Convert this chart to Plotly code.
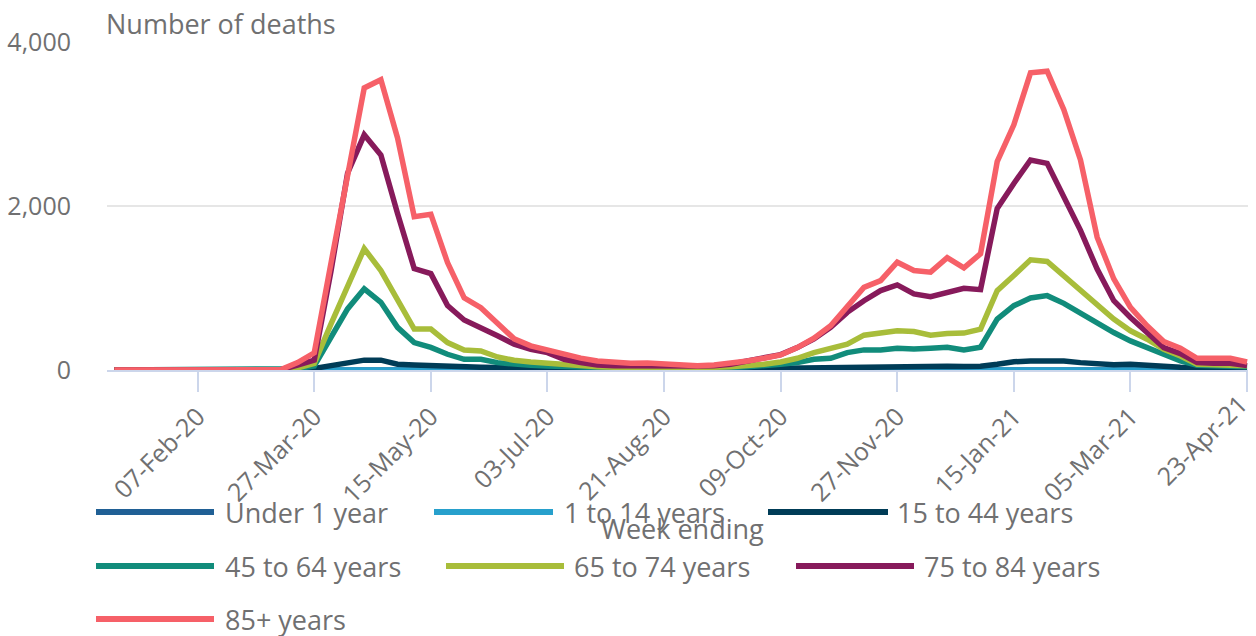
import pandas as pd
import plotly.graph_objects as go

# ---------------- data ----------------
weeks = pd.date_range("2020-01-03", "2021-04-23", freq="7D")

under_1 = [0]*10 + [0, 0, 0, 1, 1, 1, 1, 1, 0, 0,
                    0, 0, 0, 0, 0, 0, 0, 0, 0, 0,
                    0, 0, 0, 0, 0, 0, 0, 0, 0, 0,
                    0, 0, 0, 0, 0, 0, 0, 0, 0, 0,
                    0, 0, 0, 1, 1, 1, 1, 1, 0, 0,
                    0, 0, 0, 0, 0, 0, 0, 0, 0]
age_1_14 = [0]*10 + [0, 0, 1, 3, 4, 6, 6, 4, 3, 2,
                     1, 1, 1, 1, 0, 0, 0, 0, 0, 0,
                     0, 0, 0, 0, 0, 1, 1, 1, 1, 1,
                     1, 1, 1, 2, 2, 3, 3, 3, 3, 2,
                     2, 2, 3, 5, 6, 7, 7, 6, 5, 4,
                     3, 3, 2, 2, 1, 1, 1, 1, 1]
age_15_44 = [0]*10 + [1, 5, 20, 55, 90, 120, 120, 70, 60, 50,
                      45, 40, 35, 30, 25, 22, 20, 18, 15, 12,
                      12, 10, 10, 10, 10, 10, 12, 14, 15, 18,
                      20, 25, 30, 35, 40, 40, 42, 45, 42, 45,
                      45, 42, 45, 70, 100, 110, 115, 110, 90, 75,
                      65, 70, 50, 45, 35, 30, 28, 25, 25]
age_45_64 = [0]*10 + [2, 15, 50, 400, 745, 990, 825, 520, 335, 275,
                      192, 131, 131, 90, 70, 57, 49, 40, 35, 30,
                      25, 22, 22, 20, 20, 22, 25, 30, 40, 49,
                      70, 90, 131, 143, 212, 245, 245, 266, 256, 266,
                      278, 245, 278, 621, 784, 879, 907, 813, 690, 580,
                      457, 355, 273, 192, 110, 57, 49, 45, 40]
age_65_74 = [0]*10 + [2, 25, 80, 560, 1010, 1480, 1213, 845, 500, 500,
                      335, 245, 233, 159, 118, 98, 82, 61, 53, 40,
                      35, 32, 30, 30, 28, 30, 33, 40, 53, 70,
                      98, 143, 212, 265, 315, 425, 450, 478, 470, 425,
                      445, 450, 499, 968, 1152, 1344, 1324, 1152, 960, 790,
                      621, 478, 376, 253, 171, 70, 61, 61, 53]
age_75_84 = [0]*10 + [3, 60, 120, 1200, 2400, 2868, 2622, 1910, 1237, 1175,
                      785, 610, 520, 417, 315, 253, 212, 131, 90, 61,
                      53, 49, 49, 50, 48, 49, 53, 70, 110, 143,
                      188, 273, 380, 520, 703, 845, 968, 1038, 928, 895,
                      940, 996, 980, 1969, 2275, 2561, 2520, 2112, 1703, 1230,
                      845, 641, 457, 273, 200, 90, 82, 82, 53]
age_85_plus = [0]*10 + [5, 90, 210, 1300, 2360, 3440, 3540, 2830, 1870, 1900,
                        1310, 880, 760, 560, 380, 295, 245, 180, 145, 110,
                        90, 82, 85, 70, 57, 53, 61, 82, 110, 143,
                        184, 273, 388, 539, 763, 1008, 1090, 1315, 1213, 1193,
                        1369, 1246, 1418, 2541, 2990, 3624, 3644, 3174, 2561, 1620,
                        1111, 763, 539, 347, 266, 143, 143, 143, 98]

series_names = ["Under 1 year", "1 to 14 years", "15 to 44 years", "45 to 64 years",
                "65 to 74 years", "75 to 84 years", "85+ years"]
series_values = [under_1, age_1_14, age_15_44, age_45_64, age_65_74, age_75_84, age_85_plus]
series_colors = ["#206095", "#27a0cc", "#003c57", "#118c7b", "#a8bd3a", "#871a5b", "#f66068"]

y_ticks = [0, 2000, 4000]
x_tick_dates = weeks[5::7]
x_tick_labels = [d.strftime("%d-%b-%y") for d in x_tick_dates]

# ---------------- layout helpers ----------------
W, H = 1256, 636
L, R, T, B = 107, 1248, 42, 370
TXT = "#707071"
FONT = "Open Sans"


def fx(px):
    return (px - L) / (R - L)


def fy(py):
    return (B - py) / (B - T)


fig = go.Figure()
for name, vals, col in zip(series_names, series_values, series_colors):
    fig.add_trace(go.Scatter(x=weeks, y=vals, name=name, mode="lines",
                             line=dict(color=col, width=5.5), showlegend=False))

# custom legend (long line symbols, as in the reference)
legend_pos = [  # (line x0, line x1, line y, text x)
    (96, 214, 512, 223),
    (434, 553, 512, 562),
    (768, 888, 512, 895),
    (96, 214, 566, 223),
    (446, 564, 566, 572),
    (796, 914, 566, 922),
    (96, 214, 619, 223),
]
shapes = []
annotations = []
for (x0, x1, yy, tx), name, col in zip(legend_pos, series_names, series_colors):
    shapes.append(dict(type="line", xref="paper", yref="paper",
                       x0=fx(x0), x1=fx(x1), y0=fy(yy), y1=fy(yy),
                       line=dict(color=col, width=6)))
    annotations.append(dict(text=name, xref="paper", yref="paper", x=fx(tx), y=fy(yy + 0.5),
                            xanchor="left", yanchor="middle", showarrow=False,
                            font=dict(family=FONT, size=27, color=TXT)))

annotations.append(dict(text="Number of deaths", xref="paper", yref="paper",
                        x=fx(104), y=fy(23), xanchor="left", yanchor="middle",
                        showarrow=False, font=dict(family=FONT, size=27, color=TXT)))
annotations.append(dict(text="Week ending", xref="paper", yref="paper",
                        x=fx(682), y=fy(528), xanchor="center", yanchor="middle",
                        showarrow=False, font=dict(family=FONT, size=27, color=TXT)))
# last tick label drawn as a rotated annotation so that it stays inside the page
annotations.append(dict(text=x_tick_labels[-1], xref="paper", yref="paper",
                        x=fx(1256), y=fy(385), xanchor="right", yanchor="top",
                        textangle=-45, showarrow=False, borderpad=0,
                        font=dict(family=FONT, size=25, color=TXT)))

fig.update_layout(
    width=W, height=H, autosize=False,
    margin=dict(l=L, r=W - R, t=T, b=H - B, pad=0),
    paper_bgcolor="white", plot_bgcolor="white",
    font=dict(family=FONT, color=TXT),
    showlegend=False,
    shapes=shapes,
    annotations=annotations,
    xaxis=dict(
        range=[weeks[0] - pd.Timedelta(days=3.1), weeks[-1] + pd.Timedelta(days=0.4)],
        tickvals=x_tick_dates, ticktext=x_tick_labels[:-1] + [""], tickangle=-45,
        tickfont=dict(family=FONT, size=25, color=TXT),
        showgrid=False, zeroline=False,
        showline=True, linecolor="#ccd6eb", linewidth=2,
        ticks="outside", ticklen=20, tickwidth=2, tickcolor="#ccd6eb",
    ),
    yaxis=dict(
        range=[0, 4000], tickvals=y_ticks, tickformat=",",
        tickfont=dict(family=FONT, size=25, color=TXT),
        showgrid=True, gridcolor="#e6e6e6", gridwidth=2,
        zeroline=False, showline=False, ticks="",
        ticklabelstandoff=35,
    ),
)

fig.write_html("out.html", config={"displayModeBar": False},
               post_script="document.body.style.margin='0';")
